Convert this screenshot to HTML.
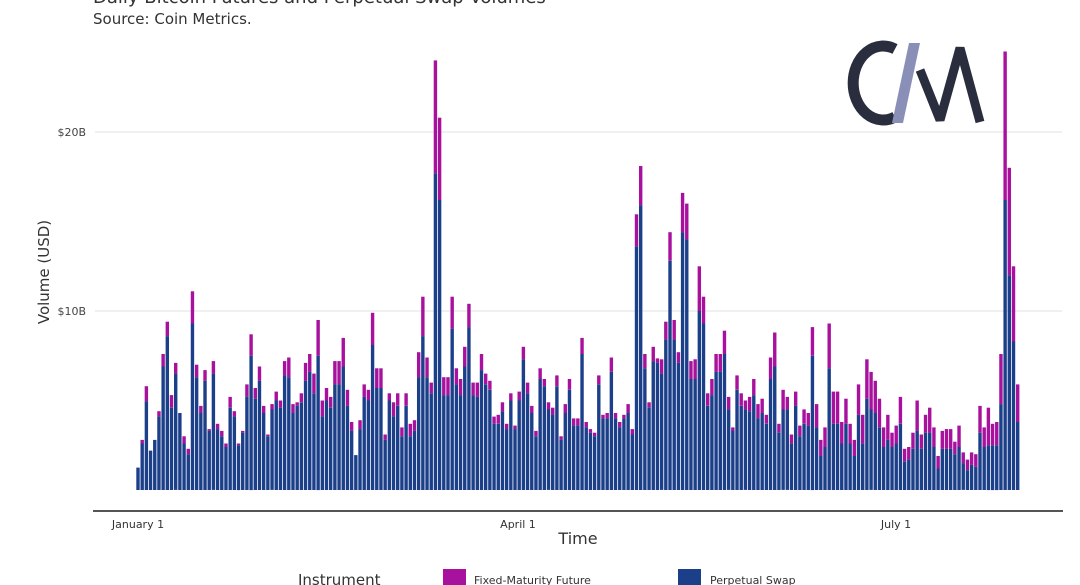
<!DOCTYPE html>
<html><head><meta charset="utf-8"><style>
html,body{margin:0;padding:0;background:#fff;}
body{width:1080px;height:585px;overflow:hidden;position:relative;font-family:"Liberation Sans","DejaVu Sans",sans-serif;}
</style></head><body>
<svg id="s" width="1080" height="585" viewBox="0 0 1080 585" xmlns="http://www.w3.org/2000/svg" style="position:absolute;left:0;top:0">
<text x="93" y="3" font-size="18" fill="#333" font-family="DejaVu Sans, sans-serif">Daily Bitcoin Futures and Perpetual Swap Volumes</text>
<text x="93" y="24" font-size="15" fill="#333" font-family="DejaVu Sans, sans-serif">Source: Coin Metrics.</text>
<line x1="95" y1="132" x2="1062" y2="132" stroke="#ebebeb" stroke-width="1.5"/>
<line x1="95" y1="311" x2="1062" y2="311" stroke="#ebebeb" stroke-width="1.5"/>
<text x="86" y="136" font-size="11" fill="#444" text-anchor="end" font-family="DejaVu Sans, sans-serif">$20B</text>
<text x="86" y="315" font-size="11" fill="#444" text-anchor="end" font-family="DejaVu Sans, sans-serif">$10B</text>
<text transform="translate(49,272) rotate(-90)" font-size="15" fill="#333" text-anchor="middle" font-family="DejaVu Sans, sans-serif">Volume (USD)</text>
<g id="bars"></g>
<line x1="93" y1="511" x2="1063" y2="511" stroke="#555" stroke-width="2"/>
<text x="138" y="528" font-size="11" fill="#333" text-anchor="middle" font-family="DejaVu Sans, sans-serif">January 1</text>
<text x="518" y="528" font-size="11" fill="#333" text-anchor="middle" font-family="DejaVu Sans, sans-serif">April 1</text>
<text x="896" y="528" font-size="11" fill="#333" text-anchor="middle" font-family="DejaVu Sans, sans-serif">July 1</text>
<text x="578" y="544" font-size="16" fill="#333" text-anchor="middle" font-family="DejaVu Sans, sans-serif">Time</text>
<text x="298" y="585" font-size="15" fill="#333" font-family="DejaVu Sans, sans-serif">Instrument</text>
<rect x="443" y="569" width="23" height="17" fill="#a8119e"/>
<text x="474" y="584" font-size="11" fill="#333" font-family="DejaVu Sans, sans-serif">Fixed-Maturity Future</text>
<rect x="678" y="569" width="23" height="17" fill="#1c3f8a"/>
<text x="710" y="584" font-size="11" fill="#333" font-family="DejaVu Sans, sans-serif">Perpetual Swap</text>
<!-- logo -->
<path d="M 895 49 A 30 37 0 1 0 895 117" fill="none" stroke="#2a2d3e" stroke-width="11"/>
<polygon points="909,43 920,43 903,123 892,123" fill="#8a8fb8"/>
<polyline points="920,70 940,120 960,48 980,122" fill="none" stroke="#2a2d3e" stroke-width="9" stroke-linejoin="bevel"/>
</svg>
<script>
var d=[[1.25,1.25],[2.8,2.6],[5.8,4.95],[2.2,2.2],[2.8,2.8],[4.4,4.1],[7.6,6.9],[9.4,8.6],[5.3,4.6],[7.1,6.5],[4.3,4.3],[3.0,2.6],[2.3,2.0],[11.1,9.3],[7.0,6.3],[4.7,4.3],[6.7,6.1],[3.4,3.3],[7.2,6.5],[3.7,3.4],[3.3,3.0],[2.6,2.4],[5.2,4.6],[4.4,4.1],[2.6,2.5],[3.3,3.2],[5.9,5.2],[8.7,7.5],[5.7,5.1],[6.9,6.1],[4.7,4.3],[3.1,3.0],[4.8,4.5],[5.5,5.0],[5.0,4.6],[7.2,6.4],[7.4,6.3],[4.8,4.3],[4.9,4.7],[5.4,4.9],[7.1,6.1],[7.6,6.6],[6.5,5.4],[9.5,7.5],[5.0,4.1],[5.7,5.0],[5.2,4.6],[7.2,5.9],[7.2,5.9],[8.5,6.9],[5.6,4.7],[3.8,3.3],[1.95,1.95],[3.9,3.4],[5.9,5.2],[5.6,5.0],[9.9,8.1],[6.8,5.7],[6.8,5.7],[3.1,2.8],[5.4,5.0],[4.9,4.1],[5.4,4.7],[3.5,3.0],[5.4,4.7],[3.7,3.0],[3.9,3.3],[7.7,6.3],[10.8,8.6],[7.4,6.3],
[6.0,5.4],[24.0,17.7],[20.8,16.2],[6.3,5.3],[6.3,5.3],[10.8,9.0],[6.8,5.9],[6.2,5.3],[8.0,6.9],[10.4,9.1],[6.0,5.3],[6.0,5.2],[7.6,6.7],[6.5,5.9],[6.1,5.6],[4.1,3.7],[4.2,3.7],[4.9,4.4],[3.7,3.4],[5.4,5.0],[3.6,3.4],[5.5,5.0],[8.0,7.3],[6.0,5.4],[4.7,4.3],[3.3,3.0],[6.8,6.2],[6.2,5.8],[4.9,4.5],[4.6,4.2],[6.4,5.8],[3.0,2.8],[4.8,4.3],[6.2,5.6],[4.0,3.6],[4.0,3.6],[8.5,7.6],[3.8,3.5],[3.4,3.2],[3.2,3.0],[6.4,5.9],[4.2,4.0],[4.3,4.0],[7.4,6.6],[4.3,4.0],[3.8,3.5],[4.2,4.0],[4.8,4.3],[3.4,3.1],[15.4,13.6],[18.1,15.9],[7.6,6.8],[4.9,4.6],[8.0,7.2],[7.35,7.1],[7.3,6.5],[9.4,8.4],[14.4,12.8],[9.5,8.4],[7.7,7.1],[16.6,14.4],[16.0,14.0],[7.2,6.2],[7.3,6.2],[12.5,10.0],[10.8,9.3],[5.4,4.7],[6.2,5.3],[7.6,6.6],[7.6,6.6],
[8.9,7.6],[5.2,4.5],[3.5,3.3],[6.4,5.6],[5.4,4.7],[5.0,4.5],[5.2,4.4],[6.2,5.3],[4.8,4.0],[5.1,4.3],[4.2,3.7],[7.4,6.2],[8.8,6.9],[3.7,3.2],[5.6,4.5],[5.2,4.5],[3.1,2.6],[5.5,4.7],[3.6,3.0],[4.5,3.7],[4.3,3.6],[9.1,7.5],[4.8,3.5],[2.8,1.9],[3.5,2.4],[9.3,6.8],[5.5,3.7],[5.5,3.7],[3.8,2.6],[5.1,3.7],[3.7,2.6],[2.8,1.9],[5.9,4.2],[4.2,2.6],[7.3,5.1],[6.6,4.5],[6.1,4.3],[5.1,3.5],[3.5,2.4],[4.2,2.8],[3.2,2.4],[3.6,2.6],[5.2,3.7],[2.3,1.6],[2.4,1.7],[3.2,2.3],[5.0,3.3],[3.1,2.3],[4.2,3.2],[4.6,3.2],[3.5,2.4],[1.9,1.2],[3.3,2.3],[3.4,2.3],[3.4,2.3],[2.7,2.0],[3.6,2.4],[2.1,1.5],[1.7,1.1],[2.1,1.4],[2.0,1.3],[4.7,3.2],[3.5,2.4],[4.6,2.5],[3.7,2.5],[3.8,2.5],[7.6,4.8],[24.5,16.2],[18.0,12.0],[12.5,8.3],[5.9,3.8]];
var g=document.getElementById('bars'),h='',step=(1017.7-138)/(d.length-1),k=17.9,b=490;
for(var i=0;i<d.length;i++){var x=138+i*step-1.7,t=d[i][0],s=d[i][1];
h+='<rect x="'+x.toFixed(2)+'" y="'+(b-t*k).toFixed(1)+'" width="3.4" height="'+((t-s)*k).toFixed(1)+'" fill="#a8119e"/>';
h+='<rect x="'+x.toFixed(2)+'" y="'+(b-s*k).toFixed(1)+'" width="3.4" height="'+(s*k).toFixed(1)+'" fill="#1c3f8a"/>';}
g.innerHTML=h;
</script>
</body></html>
